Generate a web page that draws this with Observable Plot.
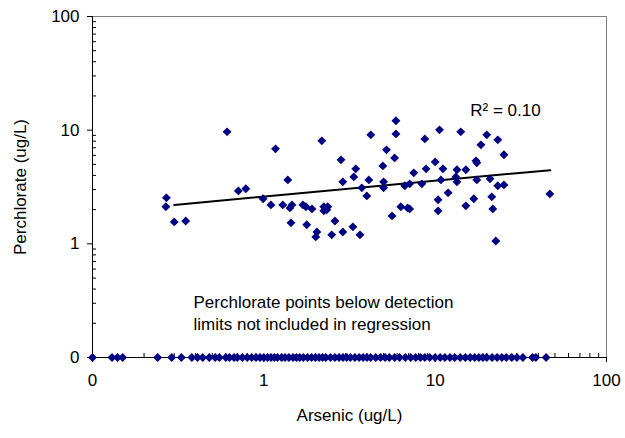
<!DOCTYPE html>
<html><head><meta charset="utf-8">
<script src="https://cdn.jsdelivr.net/npm/d3@7"></script>
<script src="https://cdn.jsdelivr.net/npm/@observablehq/plot@0.6"></script>
<style>html,body{margin:0;padding:0;background:#fff;}</style>
</head><body><div id="chart"></div>
<script>
// Detected perchlorate vs arsenic (ug/L)
const arsenic = [0.61,1.17,1.38,0.71,0.785,0.27,0.268,0.30,0.35,0.99,1.10,1.29,1.46,1.42,1.44,2.18,4.21,5.9,5.9,10.6,8.7,5.2,5.8,2.82,3.44,3.35,2.89,4.95,4.10,5.0,5.0,3.73,3.99,8.85,10.0,11.1,7.5,8.36,6.65,7.1,10.8,11.9,10.4,10.4,6.3,6.9,7.1,5.6,1.69,1.76,1.91,2.24,2.36,2.24,2.33,1.78,2.04,2.01,2.60,2.49,2.89,3.31,3.64,14.1,20.0,18.5,23.2,25.2,17.3,17.5,13.4,15.1,13.2,13.4,17.5,20.9,23.2,25.2,16.8,15.1,21.4,21.7,22.6,46.7];
const perchlorate = [9.66,6.85,3.65,2.92,3.05,2.54,2.12,1.56,1.59,2.49,2.20,2.20,2.20,2.07,1.53,8.05,9.1,12.1,9.27,10.06,8.38,6.71,5.7,5.48,4.57,3.88,3.51,4.85,3.65,3.51,3.11,3.11,2.64,4.57,5.26,4.57,4.21,3.37,3.24,3.37,3.65,2.81,2.44,1.95,2.12,2.07,2.03,1.76,2.2,2.12,2.03,2.12,2.12,1.95,1.99,1.47,1.27,1.15,1.59,1.2,1.27,1.41,1.2,9.66,9.1,7.43,8.22,6.07,5.37,5.17,4.48,4.48,3.88,3.51,3.65,3.73,3.24,3.30,2.49,2.16,2.59,2.03,1.06,2.75];
// Non-detect perchlorate (plotted on the "0" line) — arsenic values
const arsenicND = [0.1,0.13,0.14,0.15,0.24,0.29,0.33,0.38,0.41,0.44,0.48,0.52,0.55,0.6,0.63,0.67,0.7,0.75,0.8,0.85,0.9,0.95,1.0,1.05,1.1,1.15,1.2,1.27,1.33,1.4,1.48,1.55,1.62,1.7,1.8,1.9,2.0,2.1,2.2,2.3,2.45,2.6,2.75,2.9,3.05,3.2,3.4,3.6,3.8,4.0,4.2,4.5,4.8,5.1,5.4,5.8,6.2,6.7,7.2,7.7,8.2,8.7,9.3,10,10.7,11.4,12.2,13,14,15,16,17,18,19,20,21.5,23,24.5,26,28,30,32.5,37,38.7,44.4];
const zeroLevel = 0.1; // axis value labelled "0"
// Regression line end points
const regX = [0.3, 47];
const regY = [2.2, 4.45];
const r2Label = "R² = 0.10";
const noteLabel = "Perchlorate points below detection\nlimits not included in regression";
// Tick values
const majorTicks = [0.1, 1, 10, 100];
const majorLabels = ["0", "1", "10", "100"];
const minorTicks = [0.2,0.3,0.4,0.5,0.6,0.7,0.8,0.9,2,3,4,5,6,7,8,9,20,30,40,50,60,70,80,90];

const detected = arsenic.map((a, i) => ({x: a, y: perchlorate[i]}));
const nondetect = arsenicND.map(a => ({x: a, y: zeroLevel}));
const reg = regX.map((x, i) => ({x, y: regY[i]}));
const fmt = d => majorLabels[majorTicks.indexOf(d)];

const chart = Plot.plot({
  width: 625, height: 438,
  marginLeft: 92, marginRight: 19, marginTop: 16, marginBottom: 81,
  style: {fontFamily: "'Liberation Sans', Arial, sans-serif", fontSize: "17px", color: "#000", background: "#fff", overflow: "visible"},
  x: {type: "log", domain: [0.1, 100]},
  y: {type: "log", domain: [0.1, 100]},
  marks: [
    Plot.frame({stroke: "#808080"}),
    Plot.axisX({ticks: minorTicks, tickSize: -4, text: null, label: null}),
    Plot.axisY({ticks: minorTicks, tickSize: -4, text: null, label: null}),
    Plot.axisX({ticks: majorTicks, tickFormat: fmt, tickSize: 5, tickPadding: 11, label: "Arsenic (ug/L)", labelAnchor: "center", labelArrow: "none", labelOffset: 63}),
    Plot.axisY({ticks: majorTicks, tickFormat: fmt, tickSize: 5, tickPadding: 8, label: "Perchlorate (ug/L)", labelAnchor: "center", labelArrow: "none", labelOffset: 79}),
    Plot.ruleX([0.1], {stroke: "#000"}),
    Plot.ruleY([0.1], {stroke: "#000"}),
    Plot.line(reg, {x: "x", y: "y", stroke: "#000", strokeWidth: 2}),
    Plot.dot(detected, {x: "x", y: "y", symbol: "diamond2", r: 4, fill: "#000080", stroke: "none"}),
    Plot.dot(nondetect, {x: "x", y: "y", symbol: "diamond2", r: 4, fill: "#000080", stroke: "none"}),
    Plot.text([r2Label], {frameAnchor: "top-left", dx: 413, dy: 87, textAnchor: "middle", fontSize: 17}),
    Plot.text([noteLabel], {frameAnchor: "top-left", dx: 101, dy: 295, textAnchor: "start", lineAnchor: "middle", lineHeight: 1.3, fontSize: 17})
  ]
});
document.getElementById("chart").appendChild(chart);
</script>
</body></html>
